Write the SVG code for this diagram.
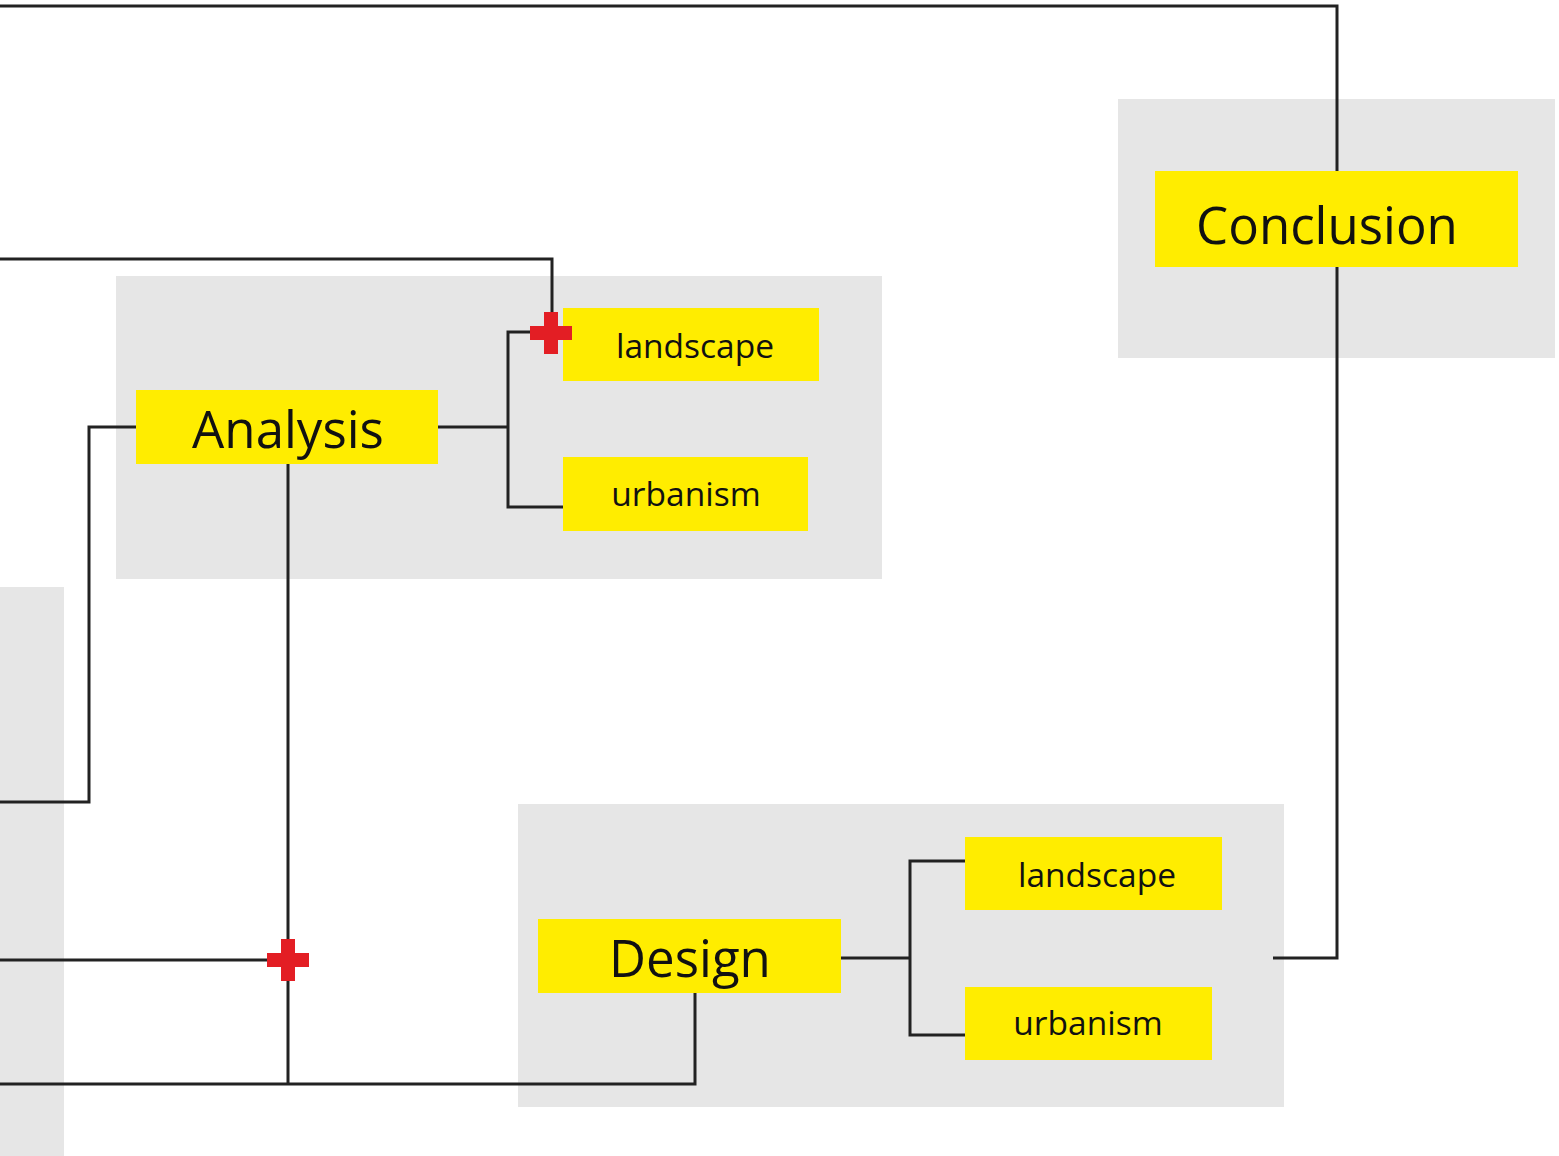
<svg xmlns="http://www.w3.org/2000/svg" width="1559" height="1156" viewBox="0 0 1559 1156">
  <style>
    .panel { fill: #e6e6e6; }
    .box { fill: #ffed00; }
    .lbl { font-family: "Open Sans", "Liberation Sans", sans-serif; fill: #111; text-anchor: middle; }
    .big { font-size: 51px; }
    .small { font-size: 33.5px; }
    .wire { fill: none; stroke: #222; stroke-width: 3; }
    .plus { fill: #e31e24; }
  </style>
  <defs>
    <path id="plus" class="plus" d="M-7,-21 H7 V-7 H21 V7 H7 V21 H-7 V7 H-21 V-7 H-7 Z"/>
  </defs>
  <rect width="1559" height="1156" fill="#fff"/>

  <!-- background panels -->
  <g id="panels">
    <rect class="panel" x="0" y="587" width="64" height="569"/>
    <rect class="panel" x="116" y="276" width="766" height="303"/>
    <rect class="panel" x="518" y="804" width="766" height="303"/>
    <rect class="panel" x="1118" y="99" width="437" height="259"/>
  </g>

  <!-- connectors -->
  <g id="connectors">
    <polyline class="wire" points="0,6 1337,6 1337,171"/>
    <polyline class="wire" points="1337,267 1337,958 1273,958"/>
    <polyline class="wire" points="0,259 552,259 552,320"/>
    <polyline class="wire" points="540,332 508,332 508,507 563,507"/>
    <line class="wire" x1="438" y1="427" x2="508" y2="427"/>
    <polyline class="wire" points="136,427 89,427 89,802 0,802"/>
    <line class="wire" x1="288" y1="464" x2="288" y2="1084"/>
    <line class="wire" x1="0" y1="960" x2="270" y2="960"/>
    <polyline class="wire" points="0,1084 695,1084 695,993"/>
    <line class="wire" x1="841" y1="958" x2="910" y2="958"/>
    <polyline class="wire" points="965,861 910,861 910,1035 965,1035"/>
  </g>

  <!-- nodes -->
  <g id="analysis">
    <rect class="box" x="136" y="390" width="302" height="74"/>
    <text class="lbl big" x="288" y="448">Analysis</text>
  </g>
  <g id="analysis-landscape">
    <rect class="box" x="563" y="308" width="256" height="73"/>
    <text class="lbl small" x="695" y="358">landscape</text>
  </g>
  <g id="analysis-urbanism">
    <rect class="box" x="563" y="457" width="245" height="74"/>
    <text class="lbl small" x="686" y="506">urbanism</text>
  </g>
  <g id="design">
    <rect class="box" x="538" y="919" width="303" height="74"/>
    <text class="lbl big" x="690" y="977">Design</text>
  </g>
  <g id="design-landscape">
    <rect class="box" x="965" y="837" width="257" height="73"/>
    <text class="lbl small" x="1097" y="887">landscape</text>
  </g>
  <g id="design-urbanism">
    <rect class="box" x="965" y="987" width="247" height="73"/>
    <text class="lbl small" x="1088" y="1035">urbanism</text>
  </g>
  <g id="conclusion">
    <rect class="box" x="1155" y="171" width="363" height="96"/>
    <text class="lbl big" x="1327" y="244">Conclusion</text>
  </g>

  <!-- junction markers, drawn above the boxes -->
  <g id="junctions">
    <use href="#plus" x="551" y="333"/>
    <use href="#plus" x="288" y="960"/>
  </g>
</svg>
